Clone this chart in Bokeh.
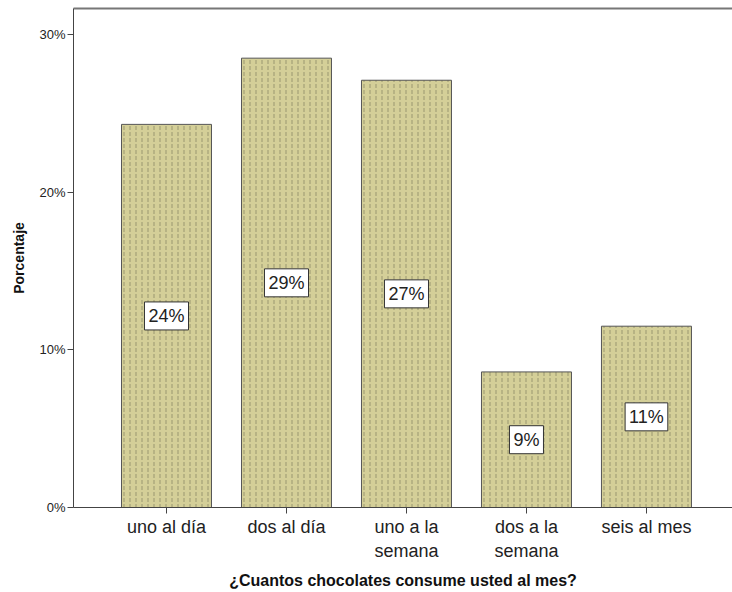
from bokeh.plotting import figure
from bokeh.models import Range1d, FixedTicker, LinearAxis, ColumnDataSource
from bokeh.embed import file_html
from bokeh.resources import INLINE
from bokeh.core.properties import value

categories = ["uno al día", "dos al día", "uno a la\nsemana", "dos a la\nsemana", "seis al mes"]
percentages = [24.3, 28.5, 27.1, 8.6, 11.5]
bar_labels = ["24%", "29%", "27%", "9%", "11%"]
y_ticks = [0, 10, 20, 30]
y_tick_labels = ["0%", "10%", "20%", "30%"]

FONT = "Liberation Sans"

x = list(range(len(categories)))
src = ColumnDataSource(dict(x=x, top=percentages,
                            mid=[v / 2 for v in percentages], lab=bar_labels))

p = figure(width=732, height=592, output_backend="svg", toolbar_location=None,
           x_range=Range1d(-0.775, 4.717), y_range=Range1d(0, 31.65),
           min_border_left=73, min_border_right=0, min_border_top=8,
           min_border_bottom=85)
p.outline_line_color = None
p.xgrid.visible = False
p.ygrid.visible = False
p.background_fill_color = "white"
p.border_fill_color = "white"

p.vbar(x="x", top="top", bottom=0, width=0.75, source=src,
       fill_color="#d4cf98", line_color="#555555", line_width=1,
       hatch_pattern="vertical_dash", hatch_color="#9a976f",
       hatch_scale=6, hatch_weight=1)

p.text(x="x", y="mid", text="lab", source=src, text_align="center",
       text_baseline="middle", text_font=value(FONT), text_font_size="18px",
       text_color="#222222", background_fill_color="white",
       border_line_color="#333333", border_line_width=1, padding=4)

# x axis
xa = p.xaxis[0]
xa.ticker = FixedTicker(ticks=x)
xa.major_label_overrides = {i: c for i, c in zip(x, categories)}
xa.major_label_text_font = FONT
xa.major_label_text_font_size = "18px"
xa.major_label_text_color = "#222222"
xa.major_tick_out = 6
xa.major_tick_in = 0
xa.minor_tick_out = 0
xa.minor_tick_in = 0
xa.major_label_standoff = 3
xa.axis_line_color = "#444444"
xa.major_tick_line_color = "#444444"
xa.axis_label = "¿Cuantos chocolates consume usted al mes?"
xa.axis_label_text_font = FONT
xa.axis_label_text_font_style = "bold"
xa.axis_label_text_font_size = "16px"
xa.axis_label_text_color = "#111111"
xa.axis_label_standoff = 8

# y axis
ya = p.yaxis[0]
ya.ticker = FixedTicker(ticks=y_ticks)
ya.major_label_overrides = {t: l for t, l in zip(y_ticks, y_tick_labels)}
ya.major_label_text_font = FONT
ya.major_label_text_font_size = "13px"
ya.major_label_text_color = "#222222"
ya.major_tick_out = 6
ya.major_tick_in = 0
ya.minor_tick_out = 0
ya.minor_tick_in = 0
ya.major_label_standoff = 2
ya.axis_line_color = "#444444"
ya.major_tick_line_color = "#444444"
ya.axis_label = "Porcentaje"
ya.axis_label_text_font = FONT
ya.axis_label_text_font_style = "bold"
ya.axis_label_text_font_size = "14px"
ya.axis_label_text_color = "#111111"
ya.axis_label_standoff = 9

# top frame line
top = LinearAxis(ticker=FixedTicker(ticks=[]), major_tick_out=0, major_tick_in=0,
                 minor_tick_out=0, minor_tick_in=0, axis_line_color="#777777",
                 axis_line_width=2, major_label_text_font_size="0px")
p.add_layout(top, "above")

open("out.html", "w").write(file_html(p, INLINE))
